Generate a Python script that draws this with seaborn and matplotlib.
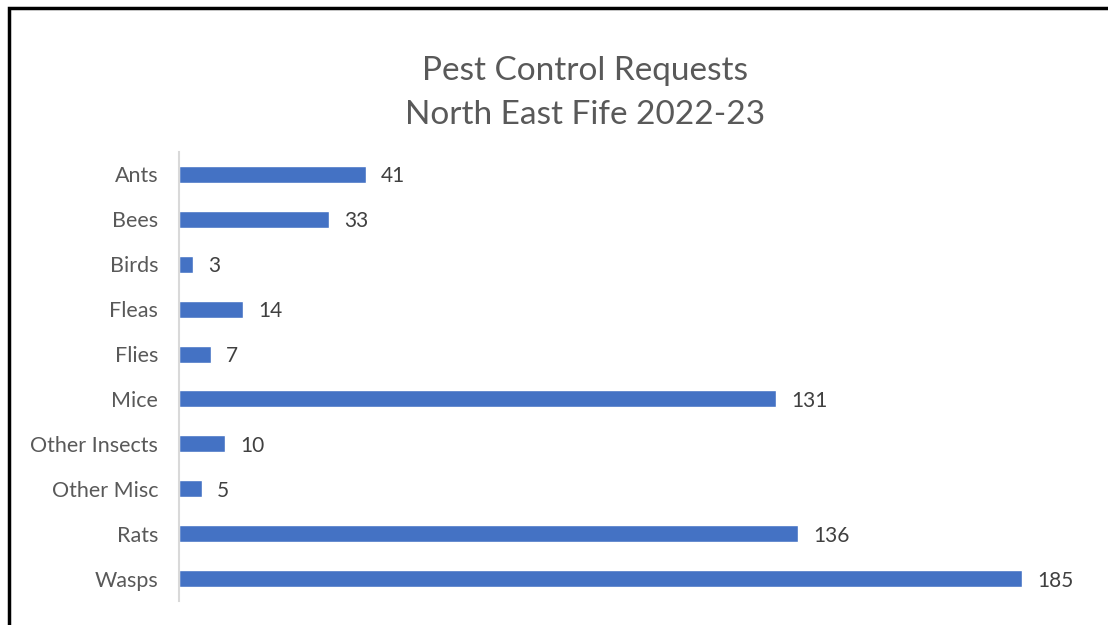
import matplotlib
matplotlib.use("Agg")
import matplotlib.pyplot as plt
from matplotlib.patches import Rectangle
import seaborn as sns
import pandas as pd

# Chart data
pests = ["Ants", "Bees", "Birds", "Fleas", "Flies", "Mice",
         "Other Insects", "Other Misc", "Rats", "Wasps"]
requests = [41, 33, 3, 14, 7, 131, 10, 5, 136, 185]

df = pd.DataFrame({"Pest": pests, "Requests": requests})

sns.set_style("white")
plt.rcParams['font.family'] = ['Lato', 'DejaVu Sans']

bar_color = "#4472C4"
text_color = "#595959"

fig = plt.figure(figsize=(11.08, 6.25), dpi=100)
ax = fig.add_axes([179 / 1108, 1 - 601 / 625, 911 / 1108, 449 / 625])

sns.barplot(data=df, x="Requests", y="Pest", order=pests, orient="h",
            color=bar_color, width=0.38, saturation=1, ax=ax)

# value labels next to each bar
for container in ax.containers:
    labels = ax.bar_label(container, padding=11, fontsize=15, color="#404040")
    for t in labels:
        t.set_va("center_baseline")

ax.set_xlim(0, 200)
ax.set_ylim(len(pests) - 0.5, -0.5)
ax.set_xlabel("")
ax.set_ylabel("")
ax.set_xticks([])
ax.tick_params(axis="y", length=0, pad=15, labelsize=15.5, labelcolor=text_color)

for side in ["top", "right", "bottom"]:
    ax.spines[side].set_visible(False)
ax.spines["left"].set_color("#d9d9d9")
ax.spines["left"].set_linewidth(1.5)

fig.text(585 / 1108, 1 - 93 / 625, "Pest Control Requests\nNorth East Fife 2022-23",
         ha="center", va="center", fontsize=24, color=text_color, linespacing=1.6)

# outer chart border (partially cropped in the original)
fig.add_artist(Rectangle((9 / 1108, -0.1), 1.2, 1 - 8 / 625 + 0.1,
                         transform=fig.transFigure, fill=False,
                         edgecolor="black", linewidth=2.5))

fig.savefig("out.png", dpi=100)
